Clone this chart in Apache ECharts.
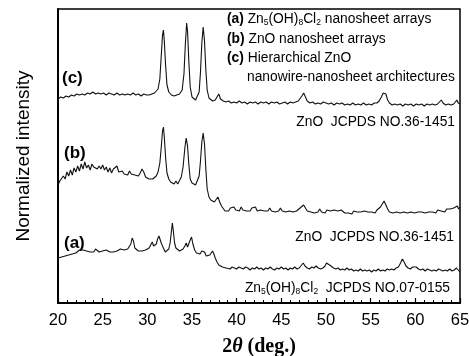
<!DOCTYPE html>
<html>
<head>
<meta charset="utf-8">
<script src="https://cdn.jsdelivr.net/npm/echarts@6/dist/echarts.min.js"></script>
<style>
  html, body { margin: 0; padding: 0; background: #fff; }
  #main { width: 469px; height: 356px; }
</style>
</head>
<body>
<div id="main"></div>
<script>
// x axis ticks
var xTicks = [20, 25, 30, 35, 40, 45, 50, 55, 60, 65];

// (a) Zn5(OH)8Cl2 nanosheet arrays  [2theta, offset intensity]
var aData = [[20.0,45],[20.2,47],[20.4,46],[20.6,48],[20.8,47],[21.0,49],[21.2,48],[21.4,50],[21.6,49],[21.8,51],[22.0,50],[22.2,51],[22.4,53],[22.6,51],[22.8,53],[23.0,54],[23.2,52],[23.4,53],[23.6,51],[23.8,52],[24.0,51],[24.2,54],[24.4,52],[24.6,51],[24.8,53],[25.0,52],[25.2,51],[25.4,53],[25.6,52],[25.8,51],[26.0,52],[26.2,51],[26.4,53],[26.6,52],[26.8,51],[27.0,54],[27.2,52],[27.4,53],[27.6,52],[27.8,54],[28.0,55],[28.15,59],[28.3,65],[28.45,62],[28.6,55],[28.8,53],[29.0,52],[29.2,53],[29.4,52],[29.6,54],[29.8,53],[30.0,54],[30.2,55],[30.4,57],[30.55,61],[30.7,57],[30.85,56],[31.0,59],[31.15,64],[31.3,67],[31.45,63],[31.6,59],[31.8,55],[32.0,51],[32.2,50],[32.4,54],[32.55,60],[32.7,72],[32.8,80],[32.9,73],[33.05,60],[33.2,55],[33.4,54],[33.6,52],[33.8,53],[34.0,54],[34.2,57],[34.35,60],[34.5,56],[34.65,58],[34.8,63],[34.95,66],[35.1,59],[35.3,53],[35.5,50],[35.7,48],[35.9,49],[36.1,52],[36.25,54],[36.4,51],[36.6,47],[36.8,46],[37.0,48],[37.15,50],[37.3,52],[37.45,49],[37.6,45],[37.8,41],[38.0,38],[38.2,37],[38.4,36],[38.6,37],[38.8,35],[39.0,36],[39.25,34],[39.5,36],[39.75,35],[40.0,34],[40.25,36],[40.5,35],[40.75,34],[41.0,36],[41.25,35],[41.5,33],[41.75,35],[42.0,34],[42.25,36],[42.5,34],[42.75,35],[43.0,33],[43.25,35],[43.5,34],[43.75,36],[44.0,34],[44.25,33],[44.5,35],[44.75,34],[45.0,36],[45.25,34],[45.5,35],[45.75,33],[46.0,35],[46.25,34],[46.5,36],[46.75,34],[47.0,35],[47.2,37],[47.45,40],[47.65,37],[47.9,35],[48.15,34],[48.4,36],[48.65,35],[48.9,37],[49.15,35],[49.4,34],[49.65,35],[49.9,37],[50.05,40],[50.2,42],[50.4,38],[50.6,36],[50.85,35],[51.1,34],[51.35,35],[51.6,33],[51.85,34],[52.1,33],[52.35,35],[52.6,33],[52.85,34],[53.1,32],[53.35,33],[53.6,32],[53.85,34],[54.1,32],[54.35,33],[54.6,32],[54.85,33],[55.1,31],[55.35,33],[55.6,32],[55.85,34],[56.1,32],[56.35,33],[56.6,32],[56.85,34],[57.1,33],[57.35,34],[57.6,33],[57.85,35],[58.1,36],[58.35,40],[58.55,44],[58.75,41],[58.95,37],[59.2,35],[59.45,34],[59.7,36],[59.9,38],[60.1,36],[60.35,34],[60.6,33],[60.85,34],[61.1,32],[61.35,34],[61.6,33],[61.85,32],[62.1,33],[62.35,32],[62.6,34],[62.85,33],[63.1,32],[63.35,33],[63.6,32],[63.85,34],[64.1,32],[64.35,33],[64.6,35],[64.8,33],[65.0,31]];

// (b) ZnO nanosheet arrays
var bData = [[20.0,118],[20.2,122],[20.4,120],[20.6,127],[20.8,124],[21.0,131],[21.2,127],[21.4,133],[21.6,128],[21.8,135],[22.0,131],[22.2,137],[22.4,132],[22.6,139],[22.8,134],[23.0,141],[23.2,135],[23.4,138],[23.6,133],[23.8,139],[24.0,136],[24.2,138],[24.4,134],[24.6,137],[24.8,134],[25.0,138],[25.2,133],[25.4,136],[25.6,131],[25.8,135],[26.0,130],[26.2,134],[26.4,132],[26.6,137],[26.8,131],[27.0,130],[27.2,132],[27.4,129],[27.6,131],[27.8,128],[28.0,132],[28.2,129],[28.4,131],[28.6,128],[28.8,130],[29.0,127],[29.2,130],[29.4,134],[29.6,131],[29.8,126],[30.0,125],[30.2,124],[30.4,125],[30.6,124],[30.8,125],[31.0,127],[31.2,131],[31.4,140],[31.55,155],[31.7,172],[31.8,176],[31.9,166],[32.05,145],[32.2,130],[32.4,124],[32.6,121],[32.8,123],[33.0,119],[33.2,122],[33.4,119],[33.6,121],[33.8,126],[34.0,136],[34.2,155],[34.35,165],[34.5,157],[34.65,138],[34.8,124],[35.0,120],[35.2,122],[35.4,118],[35.6,120],[35.8,127],[35.95,142],[36.1,161],[36.25,170],[36.4,159],[36.55,134],[36.7,114],[36.9,106],[37.1,103],[37.3,102],[37.5,101],[37.7,103],[37.9,106],[38.1,101],[38.3,97],[38.5,95],[38.7,92],[38.9,94],[39.1,92],[39.3,95],[39.5,93],[39.7,96],[39.9,93],[40.1,95],[40.3,92],[40.5,96],[40.7,93],[40.9,95],[41.1,92],[41.3,94],[41.5,92],[41.7,95],[41.9,93],[42.1,96],[42.3,92],[42.5,94],[42.7,93],[42.9,95],[43.1,92],[43.3,94],[43.5,92],[43.7,95],[43.9,92],[44.1,94],[44.3,91],[44.5,93],[44.7,92],[44.9,95],[45.1,92],[45.3,94],[45.5,91],[45.7,93],[45.9,92],[46.1,94],[46.3,91],[46.5,93],[46.7,92],[46.9,94],[47.1,95],[47.3,97],[47.5,98],[47.7,95],[47.9,92],[48.1,94],[48.3,91],[48.5,93],[48.7,90],[48.9,92],[49.1,91],[49.3,94],[49.5,91],[49.7,92],[49.9,90],[50.1,93],[50.3,91],[50.5,92],[50.7,90],[50.9,93],[51.1,91],[51.3,92],[51.5,90],[51.7,93],[51.9,91],[52.1,90],[52.3,92],[52.5,90],[52.7,91],[52.9,89],[53.1,92],[53.3,90],[53.5,91],[53.7,89],[53.9,91],[54.1,90],[54.3,92],[54.5,90],[54.7,91],[54.9,93],[55.1,91],[55.3,92],[55.5,90],[55.7,93],[55.9,94],[56.1,96],[56.3,99],[56.5,102],[56.7,98],[56.9,94],[57.1,91],[57.3,93],[57.5,90],[57.7,92],[57.9,91],[58.1,93],[58.3,90],[58.5,92],[58.7,91],[58.9,93],[59.1,90],[59.3,92],[59.5,91],[59.7,93],[59.9,90],[60.1,92],[60.3,91],[60.5,93],[60.7,91],[60.9,92],[61.1,90],[61.3,92],[61.5,91],[61.7,93],[61.9,91],[62.1,92],[62.3,90],[62.5,93],[62.7,94],[62.9,92],[63.1,93],[63.3,91],[63.5,94],[63.7,92],[63.9,94],[64.1,92],[64.3,95],[64.5,93],[64.7,97],[64.85,94],[65.0,96]];

// (c) hierarchical ZnO nanowire-nanosheet architectures
var cData = [[20.0,204],[20.3,206],[20.6,205],[20.9,207],[21.2,206],[21.5,208],[21.8,207],[22.1,209],[22.4,208],[22.7,209],[23.0,208],[23.3,210],[23.6,209],[23.9,211],[24.2,209],[24.5,210],[24.8,209],[25.1,210],[25.4,208],[25.7,210],[26.0,209],[26.3,208],[26.6,210],[26.9,208],[27.2,209],[27.5,208],[27.8,209],[28.1,208],[28.4,210],[28.7,208],[29.0,209],[29.3,207],[29.6,209],[29.9,208],[30.2,208],[30.5,209],[30.8,210],[31.0,211],[31.2,214],[31.4,224],[31.55,246],[31.7,268],[31.8,273],[31.9,262],[32.05,237],[32.2,218],[32.4,211],[32.7,208],[33.0,207],[33.3,208],[33.6,209],[33.9,213],[34.1,229],[34.25,258],[34.4,280],[34.5,272],[34.65,241],[34.8,216],[35.0,206],[35.2,204],[35.4,203],[35.6,205],[35.8,211],[35.95,231],[36.1,260],[36.25,276],[36.4,262],[36.55,233],[36.7,213],[36.9,205],[37.1,203],[37.3,202],[37.6,203],[37.8,205],[38.0,209],[38.2,204],[38.5,202],[38.8,201],[39.1,202],[39.4,200],[39.7,201],[40.0,200],[40.3,202],[40.6,200],[40.9,201],[41.2,199],[41.5,201],[41.8,200],[42.1,201],[42.4,199],[42.7,201],[43.0,200],[43.3,201],[43.6,199],[43.9,201],[44.2,200],[44.5,201],[44.8,199],[45.1,200],[45.4,201],[45.7,199],[46.0,201],[46.3,200],[46.6,201],[46.9,202],[47.1,204],[47.3,207],[47.5,210],[47.7,206],[47.9,202],[48.2,200],[48.5,201],[48.8,199],[49.1,200],[49.4,199],[49.7,201],[50.0,200],[50.3,199],[50.6,200],[50.9,198],[51.2,200],[51.5,199],[51.8,200],[52.1,198],[52.4,199],[52.7,198],[53.0,200],[53.3,198],[53.6,199],[53.9,198],[54.2,200],[54.5,198],[54.8,199],[55.1,198],[55.4,200],[55.7,200],[55.95,202],[56.2,206],[56.4,210],[56.55,212],[56.7,209],[56.9,203],[57.1,200],[57.4,198],[57.7,199],[58.0,198],[58.3,199],[58.6,197],[58.9,199],[59.2,198],[59.5,199],[59.8,197],[60.1,199],[60.4,198],[60.7,199],[61.0,197],[61.3,199],[61.6,198],[61.9,199],[62.2,198],[62.5,199],[62.7,201],[62.9,203],[63.1,200],[63.4,198],[63.7,199],[64.0,198],[64.3,199],[64.5,201],[64.65,203],[64.8,200],[65.0,199]];

var SANS = '"Liberation Sans", Arial, Helvetica, sans-serif';
var SERIF = '"Liberation Serif", "Times New Roman", serif';

var chart = echarts.init(document.getElementById('main'));

// rich styles for annotation texts (bold labels + subscripts)
var rich = {
    n: { fontSize: 13.8, fontFamily: SANS, color: '#000', lineHeight: 16 },
    b: { fontSize: 13.8, fontFamily: SANS, fontWeight: 'bold', color: '#000', lineHeight: 16 },
    s: { fontSize: 8.5, fontFamily: SANS, color: '#000', lineHeight: 6, verticalAlign: 'bottom' }
};

function note(x, y, text, align) {
    return {
        type: 'text', x: x, y: y, silent: true,
        style: {
            text: text, rich: rich,
            align: align || 'left', textAlign: align || 'left',
            verticalAlign: 'middle', textVerticalAlign: 'middle'
        }
    };
}
function tag(x, y, text) {
    return {
        type: 'text', x: x, y: y, silent: true,
        style: {
            text: text, fill: '#000',
            font: 'bold 17px ' + SANS,
            align: 'left', verticalAlign: 'middle',
            textAlign: 'left', textVerticalAlign: 'middle'
        }
    };
}

function lineSeries(name, data) {
    return {
        name: name, type: 'line', data: data,
        showSymbol: false, symbol: 'none', smooth: false,
        lineStyle: { color: '#111', width: 1.1 },
        silent: true
    };
}

chart.setOption({
    animation: false,
    backgroundColor: '#fff',
    grid: {
        left: 58, right: 9, top: 9, bottom: 53,
        outerBoundsMode: 'none', containLabel: false,
        show: true, borderColor: '#000', borderWidth: 1.5, backgroundColor: 'transparent'
    },
    xAxis: {
        type: 'value', min: xTicks[0], max: xTicks[xTicks.length - 1], interval: 5,
        axisLine: { show: true, onZero: false, lineStyle: { color: '#000', width: 2 } },
        axisTick: { show: true, inside: true, length: 5, lineStyle: { color: '#000', width: 1.2 } },
        minorTick: { show: true, splitNumber: 5, length: 3, lineStyle: { color: '#000', width: 1 } },
        splitLine: { show: false },
        axisLabel: { color: '#000', fontSize: 16.5, fontFamily: SANS, margin: 9 },
        name: '{d|2}{t|θ}{d| (deg.)}',
        nameLocation: 'middle', nameGap: 34,
        nameTextStyle: {
            rich: {
                d: { fontSize: 20, fontFamily: SERIF, fontWeight: 'bold', color: '#000' },
                t: { fontSize: 20, fontFamily: SERIF, fontWeight: 'bold', fontStyle: 'italic', color: '#000' }
            }
        }
    },
    yAxis: {
        type: 'value', min: 0, max: 294,
        axisLine: { show: true, lineStyle: { color: '#000', width: 2 } },
        axisTick: { show: false },
        axisLabel: { show: false },
        splitLine: { show: false },
        name: 'Normalized intensity',
        nameLocation: 'middle', nameGap: 25, nameRotate: 90,
        nameTextStyle: { color: '#000', fontSize: 19, fontFamily: SANS }
    },
    series: [
        lineSeries('a', aData),
        lineSeries('b', bData),
        lineSeries('c', cData)
    ],
    graphic: [
        note(227, 19, '{b|(a)}{n| Zn}{s|5}{n|(OH)}{s|8}{n|Cl}{s|2}{n| nanosheet arrays}'),
        note(227, 39, '{b|(b)}{n| ZnO nanosheet arrays}'),
        note(227, 58, '{b|(c)}{n| Hierarchical ZnO}'),
        note(247, 77, '{n|nanowire-nanosheet architectures}'),
        note(455, 122, '{n|ZnO  JCPDS NO.36-1451}', 'right'),
        note(454, 237, '{n|ZnO  JCPDS NO.36-1451}', 'right'),
        note(450, 288, '{n|Zn}{s|5}{n|(OH)}{s|8}{n|Cl}{s|2}{n|  JCPDS NO.07-0155}', 'right'),
        tag(62, 78, '(c)'),
        tag(64, 153, '(b)'),
        tag(64, 243, '(a)')
    ]
});
</script>
</body>
</html>
